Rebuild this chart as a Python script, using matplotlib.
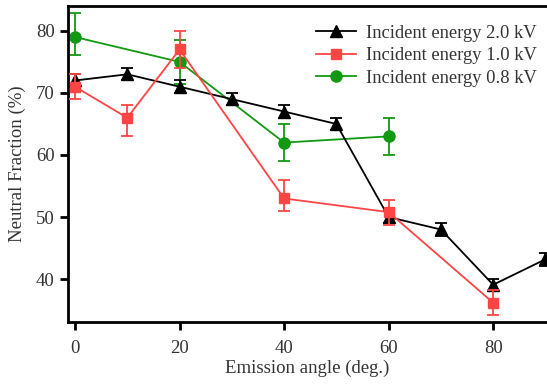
import matplotlib
matplotlib.use("Agg")
import matplotlib.pyplot as plt

plt.rcParams['font.family'] = ['Liberation Serif', 'DejaVu Serif']

angle_20 = [0, 10, 20, 30, 40, 50, 60, 70, 80, 90]
nf_20 = [72, 73, 71, 69, 67, 65, 50, 48, 39.1, 43.2]
err_20 = [1, 1, 1, 1, 1, 1, 1, 1, 1, 1]

angle_10 = [0, 10, 20, 40, 60, 80]
nf_10 = [71, 66, 77, 53, 50.8, 36.2]
err_10_lo = [2, 2.9, 3, 2, 2, 2]
err_10_hi = [2, 2, 3, 3, 2, 2]

angle_08 = [0, 20, 40, 60]
nf_08 = [79, 75, 62, 63]
err_08_lo = [2.9, 3.5, 3, 3]
err_08_hi = [3.9, 3.5, 3, 3]

labels = ["Incident energy 2.0 kV", "Incident energy 1.0 kV", "Incident energy 0.8 kV"]
text_c = '#333333'
c_black, c_red, c_green = 'black', '#ff4444', '#119911'

fig = plt.figure(figsize=(5.47, 3.84), dpi=100)
ax = fig.add_axes([68/547, 62/384, 1 - 68/547, (322-6)/384])

ekw = dict(fmt='none', capsize=4, elinewidth=1.3, capthick=1.3)
ax.errorbar(angle_08, nf_08, yerr=[err_08_lo, err_08_hi], ecolor=c_green, zorder=2, **ekw)
ax.errorbar(angle_20, nf_20, yerr=err_20, ecolor=c_black, zorder=3, **ekw)
ax.errorbar(angle_10, nf_10, yerr=[err_10_lo, err_10_hi], ecolor=c_red, zorder=4, **ekw)

l1, = ax.plot(angle_20, nf_20, color=c_black, marker='^', ms=8, lw=1.3, zorder=3)
l2, = ax.plot(angle_10, nf_10, color=c_red, marker='s', ms=7.5, lw=1.3, zorder=4)
l3, = ax.plot(angle_08, nf_08, color=c_green, marker='o', ms=8, lw=1.3, zorder=2)

ax.set_xlim(-1.34, 90.3)
ax.set_ylim(33.1, 84.0)
ax.set_xticks([0, 20, 40, 60, 80])
ax.set_yticks([40, 50, 60, 70, 80])

for s in ['left', 'bottom', 'top']:
    ax.spines[s].set_linewidth(2)
    ax.spines[s].set_color('black')
ax.spines['right'].set_visible(False)

ax.tick_params(axis='both', direction='out', length=6, width=2, labelsize=13.5,
               labelcolor=text_c, color='black', top=False, right=False)
ax.tick_params(axis='x', pad=7)

ax.set_xlabel("Emission angle (deg.)", fontsize=13.5, color=text_c, labelpad=2)
ax.set_ylabel("Neutral Fraction (%)", fontsize=13.5, color=text_c, labelpad=7)

leg = ax.legend([l1, l2, l3], labels, loc='upper right', frameon=False, fontsize=13.3,
                handlelength=2.2, borderaxespad=0.3, labelspacing=0.3, handletextpad=0.5,
                bbox_to_anchor=(1.005, 0.982))
for t in leg.get_texts():
    t.set_color(text_c)

fig.savefig("out.png", dpi=100)
